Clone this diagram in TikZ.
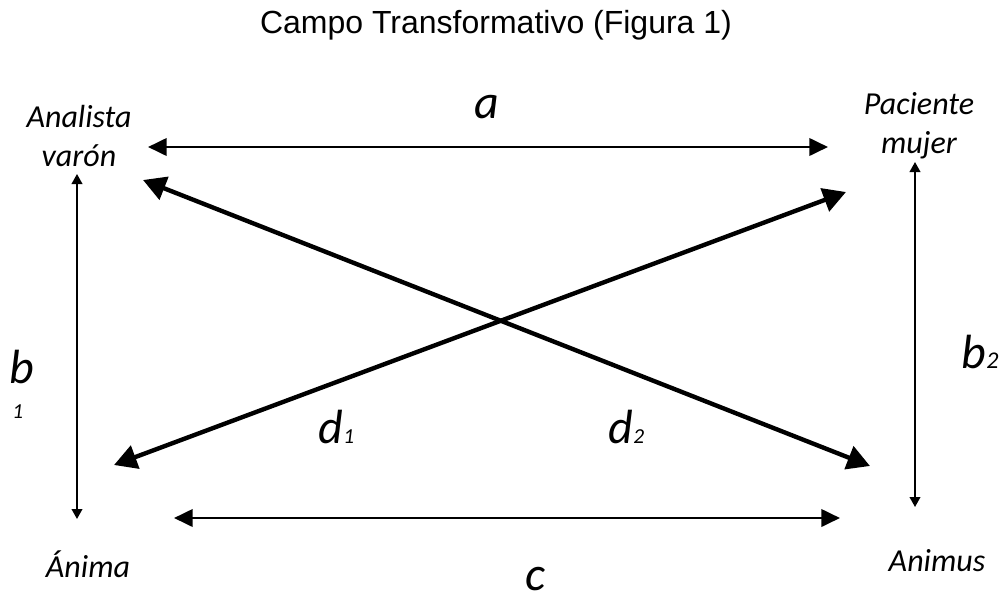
\documentclass[tikz,border=0pt]{standalone}
\usepackage{fontspec}
\setmainfont{Carlito}
\newfontfamily\titlefont{Liberation Sans}
\usetikzlibrary{arrows.meta}
\begin{document}
\begin{tikzpicture}[x=0.75pt,y=-0.75pt,
  lbl/.style={inner sep=0pt,font=\itshape\fontsize{24}{29}\selectfont,align=center},
  big/.style={inner sep=0pt,font=\itshape\fontsize{36}{40}\selectfont,anchor=base},
  sub/.style={inner sep=0pt,font=\itshape\fontsize{16}{18}\selectfont,anchor=base west},
  diag/.style={line width=3.3pt,{Triangle[length=17pt,width=18pt]}-{Triangle[length=17pt,width=18pt]}},
  horiz/.style={line width=2.1pt,{Triangle[length=14pt,width=13pt]}-{Triangle[length=14pt,width=13pt]}},
  vert/.style={line width=1.3pt,{Triangle[length=7.5pt,width=8pt]}-{Triangle[length=7.5pt,width=8pt]}}]
\useasboundingbox (0,0) rectangle (1007,600);
\node[inner sep=0pt,anchor=base,font=\titlefont\fontsize{24}{28}\selectfont] (title) at (496,33) {Campo Transformativo (Figura 1)};
% corner labels
\node[lbl,anchor=base] (analista) at (79,166) {Analista\\varón};
\node[lbl,anchor=base] (paciente) at (919,153) {Paciente\\mujer};
\node[lbl,anchor=base] (anima) at (88,577) {Ánima};
\node[lbl,anchor=base] (animus) at (937,571) {Animus};
% letter labels
\node[big] (la) at (487,118) {a};
\node[big] (lc) at (535,590) {c};
\node[big,anchor=base west] (lb1) at (9,383) {b};
\node[sub] (lb1s) at (12,418) {1};
\node[big,anchor=base west] (lb2) at (961,368) {b};
\node[sub,font=\itshape\fontsize{18}{20}\selectfont] (lb2s) at (lb2.base east) {2};
\node[big,anchor=base west] (ld1) at (318,443) {d};
\node[sub] (ld1s) at (ld1.base east) {1};
\node[big,anchor=base west] (ld2) at (608,443) {d};
\node[sub] (ld2s) at (ld2.base east) {2};
% arrow end points
\coordinate (aL) at (148,147);
\coordinate (aR) at (828,147);
\coordinate (cL) at (174,518);
\coordinate (cR) at (840,518);
\coordinate (b1T) at (77,174);
\coordinate (b1B) at (77,519);
\coordinate (b2T) at (915,162);
\coordinate (b2B) at (915,507);
\coordinate (d2A) at (143,180);
\coordinate (d2B) at (870,466);
\coordinate (d1A) at (114,465);
\coordinate (d1B) at (846,192);
% connectors
\draw[horiz] (aL) -- (aR);
\draw[horiz] (cL) -- (cR);
\draw[vert] (b1T) -- (b1B);
\draw[vert] (b2T) -- (b2B);
\draw[diag] (d2A) -- (d2B);
\draw[diag] (d1A) -- (d1B);
\end{tikzpicture}
\end{document}
